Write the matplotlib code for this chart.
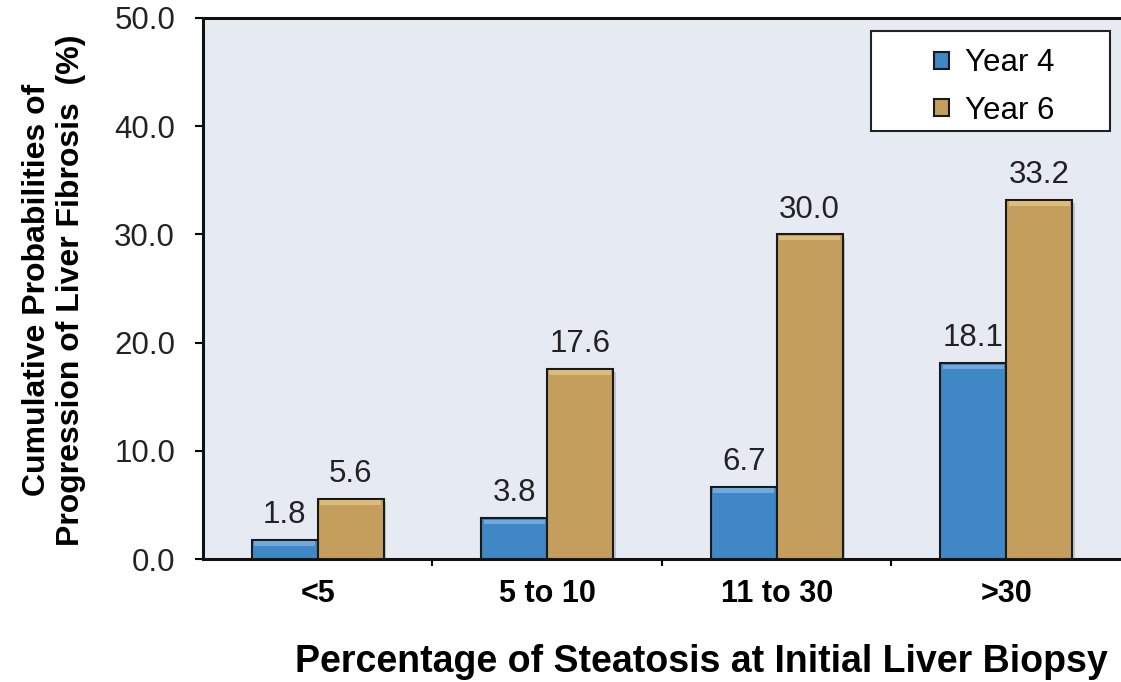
import numpy as np
import matplotlib.pyplot as plt

# datos
categories = ['<5', '5 to 10', '11 to 30', '>30']
year4 = [1.8, 3.8, 6.7, 18.1]
year6 = [5.6, 17.6, 30.0, 33.2]
yticks = [0, 10, 20, 30, 40, 50]

plt.rcParams['font.family'] = ['Liberation Sans', 'DejaVu Sans']

fig = plt.figure(figsize=(11.21, 6.82), dpi=100)
ax = fig.add_axes([0.181, 0.180, 0.819, 0.794])
ax.set_facecolor('#E6EAF2')

x = np.arange(len(categories))
w = 0.287

b4 = ax.bar(x - w/2, year4, w, color='#4087C5', edgecolor='#1a1a1a', linewidth=1.5,
            label='Year 4', zorder=3)
b6 = ax.bar(x + w/2, year6, w, color='#C49E5C', edgecolor='#1a1a1a', linewidth=1.5,
            label='Year 6', zorder=3)

# sombra suave y brillo superior (efecto biselado aproximado)
for bars, hi in ((b4, '#6FA9DE'), (b6, '#DDBB7A')):
    for r in bars:
        ax.add_patch(plt.Rectangle((r.get_x() + 0.012, 0), r.get_width(), r.get_height() - 0.3,
                                   color='#9aa0aa', alpha=0.5, zorder=2, linewidth=0))
        h = r.get_height()
        ax.add_patch(plt.Rectangle((r.get_x() + 0.01, h - 0.55), r.get_width() - 0.02, 0.4,
                                   color=hi, zorder=4, linewidth=0))

# etiquetas de valores
for vals, offs in ((year4, -w/2), (year6, w/2)):
    for xi, v in zip(x, vals):
        ax.annotate(f'{v:.1f}', (xi + offs, v), xytext=(0, 7), textcoords='offset points',
                    ha='center', va='bottom', fontsize=22.5, color='#222222')

ax.set_xlim(-0.5, 3.5)
ax.set_ylim(0, 50)
ax.set_yticks(yticks)
ax.set_yticklabels([f'{t:.1f}' for t in yticks], fontsize=22.5, color='#222222')
ax.tick_params(axis='y', direction='out', length=6, width=1.5, pad=14)

# ticks del eje x en los bordes de categoría
ax.set_xticks([0.5, 1.5, 2.5])
ax.set_xticklabels([])
ax.set_xticks(x, minor=True)
ax.set_xticklabels(categories, minor=True, fontsize=22, fontweight='bold')
ax.tick_params(axis='x', which='major', direction='out', length=5, width=1.5)
ax.tick_params(axis='x', which='minor', length=0, pad=14)

for s in ('left', 'bottom', 'top'):
    ax.spines[s].set_linewidth(2.2)
    ax.spines[s].set_color('#111111')
ax.spines['right'].set_visible(False)

ax.set_ylabel('Cumulative Probabilities of\nProgression of Liver Fibrosis  (%)',
              fontsize=23, fontweight='bold', linespacing=1.2)
ax.yaxis.set_label_coords(-0.127, 0.497)
ax.set_xlabel('Percentage of Steatosis at Initial Liver Biopsy', fontsize=27,
              fontweight='bold')
ax.xaxis.set_label_coords(0.5425, -0.157)

# marco de la leyenda dibujado aparte, leyenda sin marco centrada dentro
ax.add_patch(plt.Rectangle((0.728, 0.791), 0.260, 0.185, transform=ax.transAxes,
                           facecolor='white', edgecolor='#222222', linewidth=1.5, zorder=5))
leg = ax.legend(loc='center', bbox_to_anchor=(0.862, 0.872), fontsize=22.5, frameon=False,
                handlelength=0.47, handleheight=0.47, labelspacing=0.55, handletextpad=0.5,
                borderaxespad=0)
leg.set_zorder(6)

fig.savefig('out.png', dpi=100, facecolor='white')
